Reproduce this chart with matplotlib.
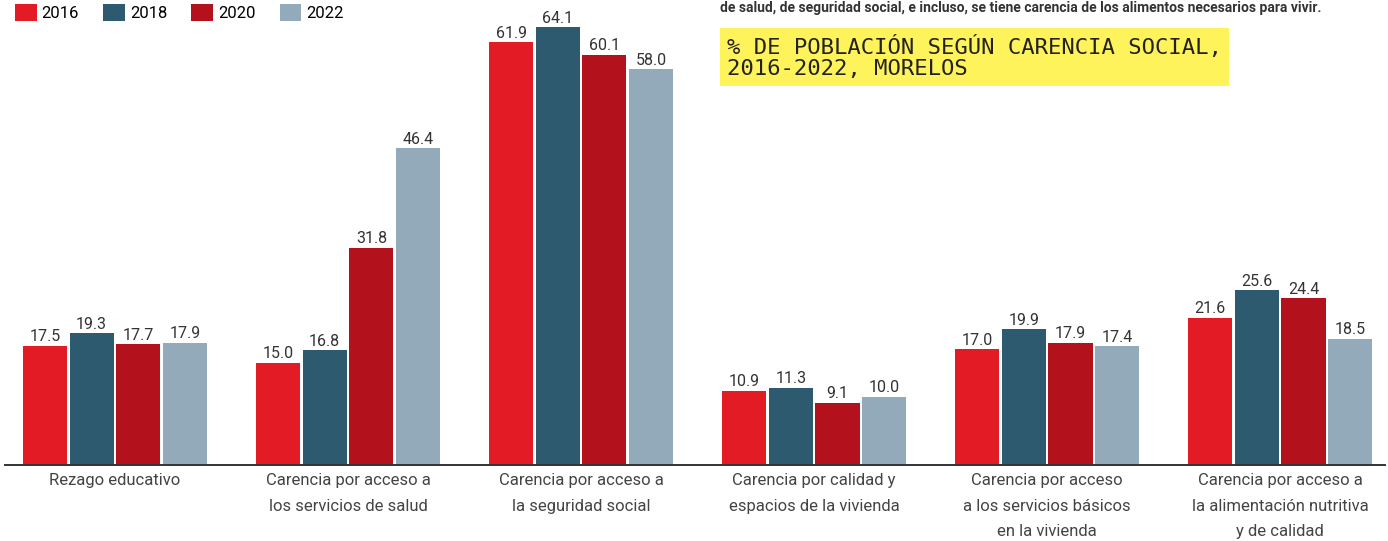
import numpy as np
import matplotlib.pyplot as plt
from matplotlib.patches import Patch

# % de población según carencia social, Morelos 2016-2022
categories = [
    'Rezago educativo',
    'Carencia por acceso a\nlos servicios de salud',
    'Carencia por acceso a\nla seguridad social',
    'Carencia por calidad y\nespacios de la vivienda',
    'Carencia por acceso\na los servicios básicos\nen la vivienda',
    'Carencia por acceso a\nla alimentación nutritiva\ny de calidad',
]
years = ['2016', '2018', '2020', '2022']
v2016 = [17.5, 15.0, 61.9, 10.9, 17.0, 21.6]
v2018 = [19.3, 16.8, 64.1, 11.3, 19.9, 25.6]
v2020 = [17.7, 31.8, 60.1, 9.1, 17.9, 24.4]
v2022 = [17.9, 46.4, 58.0, 10.0, 17.4, 18.5]

colors = ['#e31b25', '#2e5a70', '#b3111b', '#93aabb']
series = [v2016, v2018, v2020, v2022]

plt.rcParams['font.family'] = ['Roboto', 'DejaVu Sans']

fig = plt.figure(figsize=(13.88, 5.41), dpi=100)
ax = fig.add_axes([5 / 1388, 76 / 541, 1380 / 1388, 465 / 541])

x = np.arange(len(categories))
step = 0.2
width = 0.19
for i, (vals, c) in enumerate(zip(series, colors)):
    bars = ax.bar(x + (i - 1.5) * step, vals, width, color=c, label=years[i])
    ax.bar_label(bars, labels=[f'{v:.1f}' for v in vals], padding=1,
                 fontsize=11.5, color='#333333')

ax.set_xlim(-0.472, 5.45)
ax.set_ylim(0, 68.1)
ax.set_xticks(x)
ax.set_xticklabels(categories, fontsize=12, color='#444444', linespacing=1.85)
ax.tick_params(axis='x', length=0, pad=6)
ax.set_yticks([])
for s in ['top', 'left', 'right']:
    ax.spines[s].set_visible(False)
ax.spines['bottom'].set_color('#333333')
ax.spines['bottom'].set_linewidth(1.4)

handles = [Patch(facecolor=c, label=y) for c, y in zip(colors, years)]
fig.legend(handles=handles, loc='upper left', bbox_to_anchor=(0.006, 1.005),
           ncol=4, frameon=False, fontsize=12, handlelength=1.3,
           handleheight=1.2, handletextpad=0.3, columnspacing=1.45,
           borderaxespad=0)

# title box
fig.text(727 / 1388, 1 - 57 / 541, '% DE POBLACIÓN SEGÚN CARENCIA SOCIAL,\n2016-2022, MORELOS',
         family='DejaVu Sans Mono', fontsize=16, color='#222222', va='center',
         ha='left', linespacing=1.1,
         bbox=dict(boxstyle='square,pad=0.3', facecolor='#fff35c', edgecolor='none'))

# text fragment at the top edge
fig.text(720 / 1388, 0.998, 'de salud, de seguridad social, e incluso, se tiene carencia de los alimentos necesarios para vivir.',
         fontsize=10, fontweight='bold', color='#333333', va='top', ha='left')

fig.savefig('out.png', dpi=100, facecolor='white')
